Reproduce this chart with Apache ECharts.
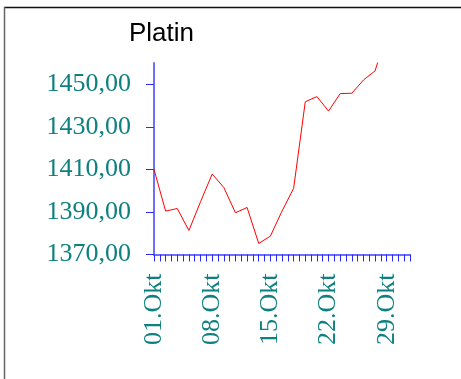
<!DOCTYPE html>
<html>
<head>
<meta charset="utf-8">
<script src="https://cdn.jsdelivr.net/npm/echarts@6/dist/echarts.min.js"></script>
<style>
  html, body { margin: 0; padding: 0; background: #ffffff; }
  #chart { width: 461px; height: 379px; }
</style>
</head>
<body>
<div id="chart"></div>
<script>
// Platinum fixing, October 2007 – one slot per trading day (Mon–Fri)
const chartTitle = 'Platin';
const tradingDays = [
  '01.10', '02.10', '03.10', '04.10', '05.10',
  '08.10', '09.10', '10.10', '11.10', '12.10',
  '15.10', '16.10', '17.10', '18.10', '19.10',
  '22.10', '23.10', '24.10', '25.10', '26.10',
  '29.10'
];
const prices = [
  1410.0, 1390.4, 1391.6, 1381.3, 1394.8,
  1407.8, 1401.5, 1389.6, 1392.1, 1375.2,
  1378.6, 1390.4, 1401.1, 1441.8, 1444.2,
  1437.4, 1445.6, 1445.8, 1452.0, 1456.3,
  1474.0
];
// Week labels sit on the Monday of each week
const weekLabels = ['01.Okt', '08.Okt', '15.Okt', '22.Okt', '29.Okt'];
const weekStartSlots = [0, 5, 10, 15, 20];
const priceTicks = [1370, 1390, 1410, 1430, 1450];

const slotCount = 22;
const halfSlotTicks = [];
for (let t = 0; t <= slotCount * 2; t++) halfSlotTicks.push(t / 2);

const axisBlue = '#6f6fff';
const tickBlue = '#2a2aff';
const labelTeal = '#0f8080';

const chart = echarts.init(document.getElementById('chart'), null, { renderer: 'canvas' });
chart.setOption({
  backgroundColor: '#ffffff',
  animation: false,
  title: {
    text: chartTitle,
    left: 124,
    top: 16,
    padding: 5,
    textStyle: { fontFamily: 'Liberation Sans', fontSize: 26, fontWeight: 'normal', color: '#000000' }
  },
  graphic: [
    { type: 'line', shape: { x1: 4, y1: 7.5, x2: 461, y2: 7.5 }, style: { stroke: '#111111', lineWidth: 1.5 } },
    { type: 'line', shape: { x1: 4.5, y1: 7, x2: 4.5, y2: 379 }, style: { stroke: '#666666', lineWidth: 1.5 } }
  ],
  grid: { left: 154, top: 63, right: 51, bottom: 124.5, containLabel: false },
  xAxis: {
    type: 'value',
    min: 0,
    max: slotCount,
    axisLine: { show: true, lineStyle: { color: axisBlue, width: 2 } },
    axisTick: { show: true, length: 7, customValues: halfSlotTicks, lineStyle: { color: tickBlue, width: 1 } },
    axisLabel: {
      customValues: weekStartSlots,
      rotate: 90,
      margin: 19,
      color: labelTeal,
      fontFamily: 'Liberation Serif',
      fontSize: 26,
      formatter: v => weekLabels[weekStartSlots.indexOf(v)] || ''
    },
    splitLine: { show: false }
  },
  yAxis: {
    type: 'value',
    min: 1370,
    max: 1460,
    axisLine: { show: true, lineStyle: { color: axisBlue, width: 2 } },
    axisTick: { show: true, length: 8, customValues: priceTicks, lineStyle: { color: tickBlue, width: 1 } },
    axisLabel: {
      customValues: priceTicks,
      margin: 23,
      color: labelTeal,
      fontFamily: 'Liberation Serif',
      fontSize: 26,
      formatter: v => v.toFixed(2).replace('.', ',')
    },
    splitLine: { show: false }
  },
  series: [{
    name: chartTitle,
    type: 'line',
    data: prices.map((p, i) => [i, p]),
    showSymbol: false,
    clip: true,
    lineStyle: { color: '#ff0000', width: 1 },
    itemStyle: { color: '#ff0000' }
  }]
});
</script>
</body>
</html>
